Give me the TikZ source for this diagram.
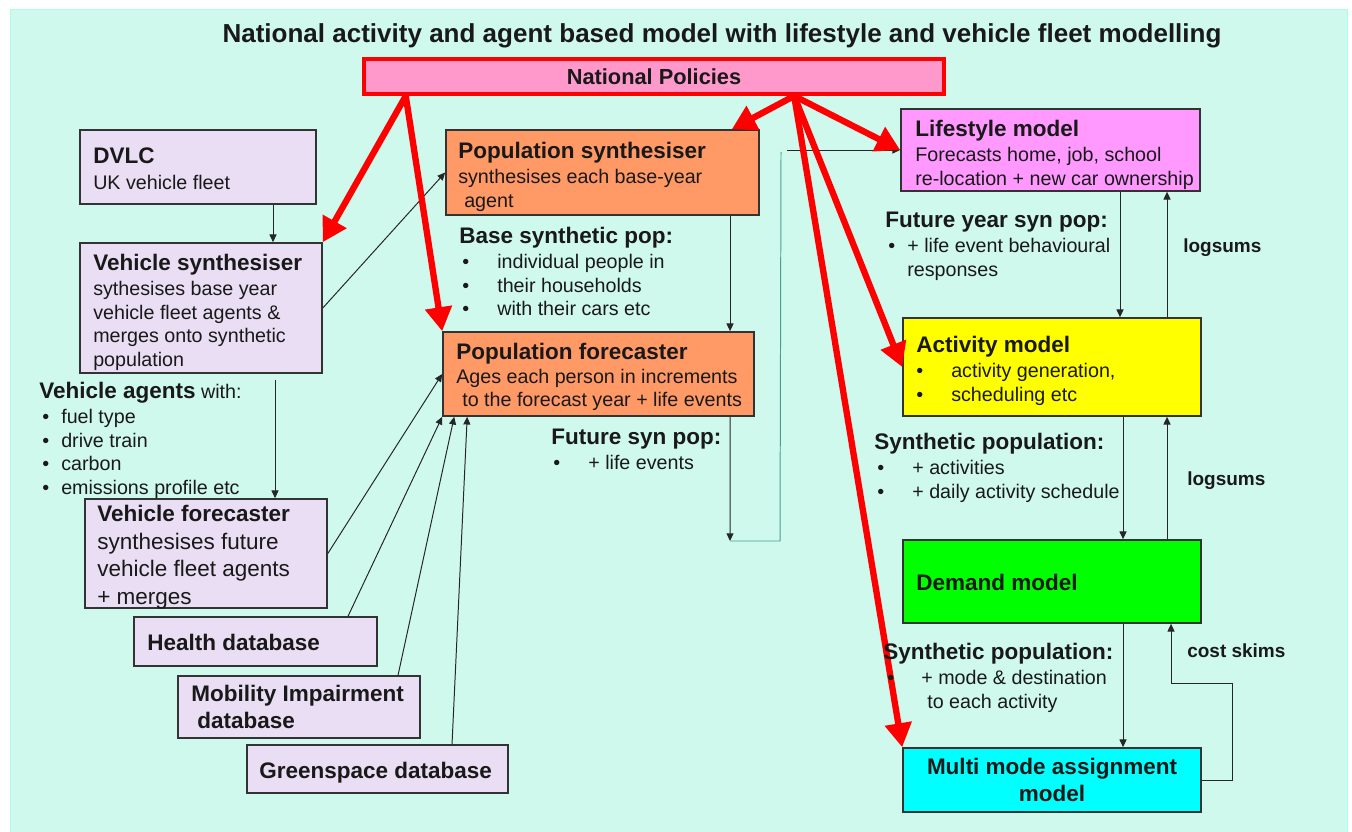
\documentclass[tikz,border=0pt]{standalone}
\usepackage{fontspec}
\setmainfont{Liberation Sans}
\usetikzlibrary{arrows.meta,positioning,calc}
\definecolor{mintbg}{RGB}{208,249,237}
\definecolor{mintedge}{RGB}{170,253,232}
\definecolor{lilacfill}{RGB}{234,222,244}
\definecolor{popfill}{RGB}{255,153,102}
\definecolor{lifefill}{RGB}{255,153,255}
\definecolor{actfill}{RGB}{255,255,0}
\definecolor{demfill}{RGB}{0,255,0}
\definecolor{mmafill}{RGB}{0,255,255}
\definecolor{polfill}{RGB}{255,153,204}
\definecolor{polred}{RGB}{255,0,0}
\definecolor{linkteal}{RGB}{70,160,140}
\newcommand{\hd}{\fontsize{16}{19}\selectfont\bfseries}
\newcommand{\bul}[1]{\makebox[#1][l]{\textbullet}}

\begin{document}
\begin{tikzpicture}[x=0.025cm, y=-0.025cm,
    box/.style={draw=black!80, line width=1.1pt, inner sep=0pt},
    vehbox/.style={box, fill=lilacfill},
    popbox/.style={box, fill=popfill},
    txt/.style={inner sep=0pt, anchor=north west, align=left, text=black!90, font=\fontsize{14}{16.8}\selectfont},
    lbl/.style={inner sep=0pt, anchor=base west, text=black!90, font=\fontsize{13.5}{16}\selectfont\bfseries},
    arr/.style={-{Triangle[length=5.5pt,width=5pt]}, line width=0.7pt, black!85},
    polarr/.style={-{Triangle[length=0.6cm,width=0.65cm]}, line width=4.5pt, polred}
]
\useasboundingbox (0,0) rectangle (1352,832);

% background
\filldraw[fill=mintbg, draw=mintedge, line width=1.2pt] (10.5,9.5) rectangle (1347.5,840);

% title + policies
\node[inner sep=0pt, anchor=base, text=black!90, font=\fontsize{18.5}{22}\selectfont\bfseries] (title) at (722,43)
    {National activity and agent based model with lifestyle and vehicle fleet modelling};
\node[draw=polred, line width=2.8pt, fill=polfill, minimum width=14.5cm, minimum height=0.875cm,
    text=black!90, font=\fontsize{15.5}{18}\selectfont\bfseries] (policy) at (654,76.5) {National Policies};

% vehicle side
\node[vehbox, minimum width=5.9cm, minimum height=1.85cm] (dvlc) at (198,167) {};
\node[vehbox, minimum width=6.05cm, minimum height=3.25cm] (vsyn) at (201,308) {};
\node[vehbox, minimum width=6.05cm, minimum height=2.725cm] (vfor) at (206,553.5) {};
\node[vehbox, minimum width=6.075cm, minimum height=1.225cm] (health) at (255.5,641.5) {};
\node[vehbox, minimum width=6.05cm, minimum height=1.55cm] (mobil) at (299,707) {};
\node[vehbox, minimum width=6.525cm, minimum height=1.2cm] (gspace) at (377.5,769) {};

% population side
\node[popbox, minimum width=7.825cm, minimum height=2.125cm] (psyn) at (602.5,172.5) {};
\node[popbox, minimum width=7.775cm, minimum height=2.1cm] (pfor) at (598.5,374) {};

% model chain
\node[box, fill=lifefill, minimum width=7.475cm, minimum height=2.05cm] (life) at (1050.5,150) {};
\node[box, fill=actfill, minimum width=7.45cm, minimum height=2.45cm] (act) at (1052,367) {};
\node[box, fill=demfill, minimum width=7.45cm, minimum height=2.075cm] (dem) at (1052,581.5) {};
\node[box, fill=mmafill, minimum width=7.45cm, minimum height=1.6cm, align=center, text=black!90,
    font=\fontsize{16}{19.2}\selectfont\bfseries] (mma) at (1052,780) {Multi mode assignment\\model};

% connector end points
\coordinate (dvo) at ([xshift=1.875cm]dvlc.south);
\coordinate (vso) at ([xshift=1.85cm,yshift=-0.15cm]vsyn.south);
\coordinate (pso) at ([xshift=3.1875cm]psyn.south);
\coordinate (pfo) at ([xshift=3.2875cm]pfor.south);
\coordinate (fp) at (730,541);
\coordinate (fpc) at (780,541);
\coordinate (lsc) at (781,152);
\coordinate (lsa) at (787,150);
\coordinate (hdo) at ([xshift=2.3125cm]health.north);
\coordinate (mbo) at ([xshift=2.475cm]mobil.north);
\coordinate (gso) at ([xshift=1.8625cm]gspace.north);
\coordinate (lfd) at ([xshift=1.7375cm]life.south);
\coordinate (lfu) at ([xshift=2.9125cm]life.south);
\coordinate (acd) at ([xshift=1.775cm]act.south);
\coordinate (acu) at ([xshift=2.875cm]act.south);
\coordinate (dmd) at ([xshift=1.775cm]dem.south);
\coordinate (dmu) at ([xshift=2.975cm]dem.south);
\coordinate (loop) at (1232,683);
\coordinate (polL) at ($(policy.south west)!0.075!(policy.south east)$);
\coordinate (polR) at ($(policy.south west)!0.74!(policy.south east)$);

% thin links
\draw[arr] (dvo) -- (dvo |- vsyn.north);
\draw[arr] (vsyn.east) -- (psyn.west);
\draw[arr] (vso) -- (vso |- vfor.north);
\draw[arr] (vfor.east) -- (pfor.west);
\draw[arr] (hdo) -- (pfor.south west);
\draw[arr] (mbo) -- ([xshift=0.3cm]pfor.south west);
\draw[arr] (gso) -- ([xshift=0.625cm]pfor.south west);
\draw[arr] (pso) -- (pso |- pfor.north);
\draw[arr] (pfo) -- (fp);
\draw[linkteal, line width=0.7pt] (fp) -- (fpc) -- (lsc);
\draw[arr] (lsa) -- (lsa -| life.west);
\draw[arr] (lfd) -- (lfd |- act.north);
\draw[arr] (lfu |- act.north) -- (lfu);
\draw[arr] (acd) -- (acd |- dem.north);
\draw[arr] (acu |- dem.north) -- (acu);
\draw[arr] (dmd) -- (dmd |- mma.north);
\draw[arr] (mma.east) -| (loop) -| (dmu);

% policy arrows
\draw[polarr] (polL) -- (vsyn.north east);
\draw[polarr] (polL) -- (pfor.north west);
\draw[polarr] (polR) -- ([xshift=-0.7cm]psyn.north east);
\draw[polarr] (polR) -- (life.west);
\draw[polarr] (polR) -- (act.west);
\draw[polarr] (polR) -- (mma.north west);

% box texts
\node[txt] (dvlctxt) at (93,148) {{\hd DVLC}\\[1pt]UK vehicle fleet};
\node[txt] (vsyntxt) at (93,254) {{\hd Vehicle synthesiser}\\[1pt]sythesises base year\\vehicle fleet agents \&\\merges onto synthetic\\population};
\node[txt, font=\fontsize{16}{19.6}\selectfont] (vfortxt) at (97,505) {{\bfseries Vehicle forecaster}\\synthesises future\\vehicle fleet agents\\+ merges};
\node[txt, font=\hd] (healthtxt) at (147,634) {Health database};
\node[txt, font=\fontsize{16}{19.2}\selectfont\bfseries] (mobiltxt) at (191,685) {Mobility Impairment\\\hspace*{0.15cm}database};
\node[txt, font=\hd] (gspacetxt) at (259,762) {Greenspace database};
\node[txt] (psyntxt) at (458,142) {{\hd Population synthesiser}\\[1pt]synthesises each base-year\\\hspace*{0.15cm}agent};
\node[txt] (pfortxt) at (456,343) {{\hd Population forecaster}\\Ages each person in increments\\\hspace*{0.15cm}to the forecast year + life events};
\node[txt] (lifetxt) at (915,120) {{\hd Lifestyle model}\\[1pt]Forecasts home, job, school\\re-location + new car ownership};
\node[txt] (acttxt) at (916,336) {{\hd Activity model}\\[1pt]\bul{0.875cm}activity generation,\\\bul{0.875cm}scheduling etc};
\node[txt, font=\hd] (demtxt) at (916,574) {Demand model};

% free notes
\node[txt] (vagents) at (39,382) {{\hd Vehicle agents} with:\\[1pt]\hspace*{0.075cm}\bul{0.475cm}fuel type\\\hspace*{0.075cm}\bul{0.475cm}drive train\\\hspace*{0.075cm}\bul{0.475cm}carbon\\\hspace*{0.075cm}\bul{0.475cm}emissions profile etc};
\node[txt] (basepop) at (459,227) {{\hd Base synthetic pop:}\\[1pt]\hspace*{0.075cm}\bul{0.875cm}individual people in\\\hspace*{0.075cm}\bul{0.875cm}their households\\\hspace*{0.075cm}\bul{0.875cm}with their cars etc};
\node[txt] (futpop) at (551,429) {{\hd Future syn pop:}\\[1pt]\hspace*{0.05cm}\bul{0.875cm}+ life events};
\node[txt] (futyrpop) at (885,212) {{\hd Future year syn pop:}\\[1pt]\hspace*{0.075cm}\bul{0.475cm}+ life event behavioural\\\hspace*{0.55cm}responses};
\node[txt] (synpop) at (874,433) {{\hd Synthetic population:}\\[1pt]\hspace*{0.075cm}\bul{0.875cm}+ activities\\\hspace*{0.075cm}\bul{0.875cm}+ daily activity schedule};
\node[txt] (synpop2) at (883,643) {{\hd Synthetic population:}\\[1pt]\hspace*{0.1cm}\bul{0.85cm}+ mode \& destination\\\hspace*{1.1cm}to each activity};
\node[lbl] (logsum1) at (1183,253) {logsums};
\node[lbl] (logsum2) at (1187,485) {logsums};
\node[lbl] (skims) at (1187,657) {cost skims};

\end{tikzpicture}
\end{document}
